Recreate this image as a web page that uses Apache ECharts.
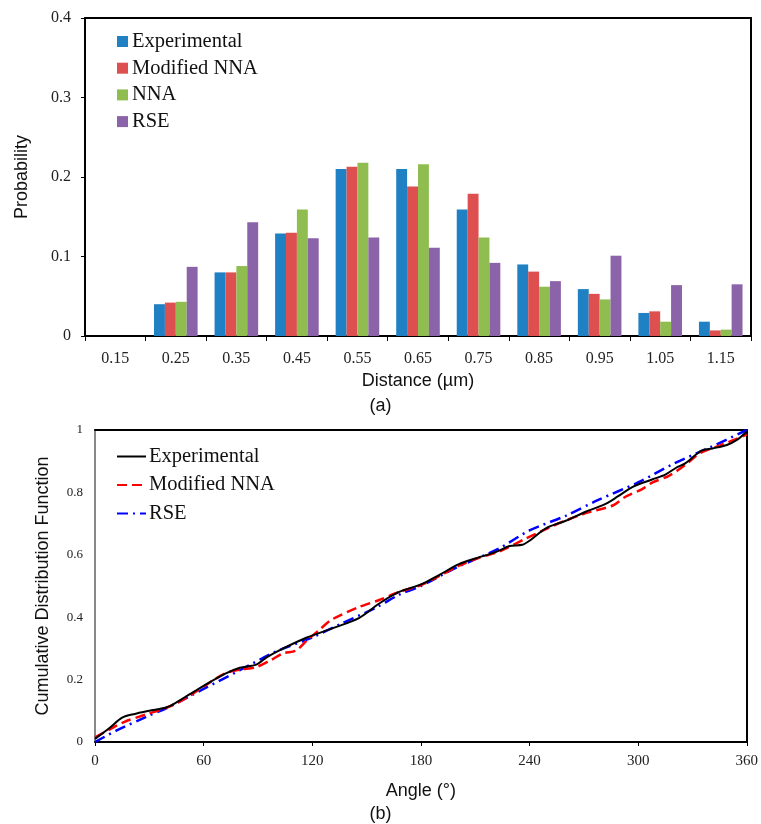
<!DOCTYPE html>
<html>
<head>
<meta charset="utf-8">
<script src="https://cdn.jsdelivr.net/npm/echarts@6/dist/echarts.min.js"></script>
<style>
html,body{margin:0;padding:0;background:#fff;}
#chart{width:761px;height:824px;}
</style>
</head>
<body>
<div id="chart"></div>
<script>
// ---- Panel (a): distance histogram ----
const distCategories = ['0.15','0.25','0.35','0.45','0.55','0.65','0.75','0.85','0.95','1.05','1.15'];
const expProb  = [0, 0.040, 0.080, 0.129, 0.210, 0.210, 0.159, 0.090, 0.059, 0.029, 0.018];
const mnnaProb = [0, 0.042, 0.080, 0.130, 0.213, 0.188, 0.179, 0.081, 0.053, 0.031, 0.007];
const nnaProb  = [0, 0.043, 0.088, 0.159, 0.218, 0.216, 0.124, 0.062, 0.046, 0.018, 0.008];
const rseProb  = [0, 0.087, 0.143, 0.123, 0.124, 0.111, 0.092, 0.069, 0.101, 0.064, 0.065];

// ---- Panel (b): angle CDF ----
const expAngle  = [0, 8, 15, 22, 30, 40, 50, 60, 72, 80, 89, 95, 104, 117, 131, 146, 157, 168, 180, 190, 201, 210, 222, 229, 236, 240, 249, 260, 271, 282, 289, 297, 308, 315, 321, 326, 335, 341, 349, 355, 360];
const expCdf    = [0.01, 0.045, 0.078, 0.09, 0.1, 0.112, 0.145, 0.18, 0.219, 0.238, 0.248, 0.272, 0.30, 0.335, 0.364, 0.398, 0.444, 0.481, 0.505, 0.535, 0.570, 0.588, 0.61, 0.628, 0.632, 0.645, 0.685, 0.709, 0.738, 0.763, 0.788, 0.818, 0.842, 0.857, 0.879, 0.893, 0.934, 0.941, 0.952, 0.97, 0.995];
const mnnaAngle = [0, 8, 16, 28, 40, 50, 60, 72, 80, 89, 97, 104, 111, 117, 124, 131, 146, 157, 168, 180, 190, 201, 212, 223, 238, 250, 260, 272, 286, 293, 302, 308, 317, 326, 334, 345, 360];
const mnnaCdf   = [0.015, 0.04, 0.064, 0.088, 0.111, 0.14, 0.178, 0.22, 0.232, 0.24, 0.262, 0.284, 0.293, 0.325, 0.36, 0.393, 0.433, 0.455, 0.481, 0.503, 0.532, 0.565, 0.59, 0.61, 0.652, 0.685, 0.71, 0.735, 0.758, 0.786, 0.81, 0.832, 0.853, 0.888, 0.925, 0.95, 0.985];
const rseAngle  = [0, 12, 28, 40, 60, 80, 100, 120, 137, 155, 168, 180, 200, 223, 240, 260, 278, 300, 320, 340, 360];
const rseCdf    = [0, 0.037, 0.08, 0.11, 0.17, 0.23, 0.29, 0.335, 0.382, 0.43, 0.472, 0.5, 0.56, 0.62, 0.678, 0.725, 0.776, 0.832, 0.893, 0.945, 1.0];

const serif = '"Liberation Serif", "Times New Roman", serif';
const sans = '"Liberation Sans", Arial, sans-serif';

function pairs(xs, ys){ return xs.map((x,i)=>[x, ys[i]]); }

const chart = echarts.init(document.getElementById('chart'), null, {renderer:'canvas'});

const barColors = ['#1F80C3', '#DE4F4F', '#8FBD50', '#8B63A8'];
function barSeries(name, data, color){
  return {
    name, type:'bar', xAxisIndex:0, yAxisIndex:0, data,
    barGap:'0%', barCategoryGap:'28%',
    itemStyle:{color},
    emphasis:{disabled:true}
  };
}

chart.setOption({
  animation:false,
  backgroundColor:'#fff',
  grid:[
    {left:85, top:18, right:10, height:318},
    {left:95, top:430, right:13, height:312}
  ],
  legend:[
    {
      data:['Experimental','Modified NNA','NNA','RSE'],
      orient:'vertical', left:117, top:31, padding:0,
      icon:'rect', itemWidth:11, itemHeight:11, itemGap:5.7,
      textStyle:{fontFamily:serif, fontSize:20.5, color:'#111', lineHeight:20, padding:[0,0,0,-1]},
      selectedMode:false
    },
    {
      data:['Experimental ','Modified NNA ','RSE '],
      orient:'vertical', left:116, top:446, padding:0,
      itemWidth:29, itemHeight:14, itemGap:7.5,
      itemStyle:{opacity:0},
      textStyle:{fontFamily:serif, fontSize:20.5, color:'#111', lineHeight:20, padding:[0,0,0,-2]},
      selectedMode:false
    }
  ],
  xAxis:[
    {
      gridIndex:0, type:'category', data:distCategories,
      name:'Distance (µm)', nameLocation:'middle', nameGap:36,
      nameTextStyle:{fontFamily:sans, fontSize:18, color:'#111'},
      axisLine:{onZero:false, lineStyle:{color:'#000', width:2}},
      axisTick:{show:true, length:5, lineStyle:{color:'#000', width:1}},
      axisLabel:{fontFamily:serif, fontSize:16, color:'#222', margin:15},
      splitLine:{show:false}
    },
    {
      gridIndex:0, type:'category', data:distCategories, position:'top',
      axisLine:{onZero:false, lineStyle:{color:'#000', width:2}},
      axisTick:{show:false}, axisLabel:{show:false}, splitLine:{show:false}
    },
    {
      gridIndex:1, type:'value', min:0, max:360, interval:60,
      name:'Angle (°)', nameLocation:'middle', nameGap:40,
      nameTextStyle:{fontFamily:sans, fontSize:18, color:'#111'},
      axisLine:{onZero:false, lineStyle:{color:'#000', width:2}},
      axisTick:{show:true, length:4, lineStyle:{color:'#000', width:1}},
      axisLabel:{fontFamily:serif, fontSize:15, color:'#222', margin:12},
      splitLine:{show:false}
    },
    {
      gridIndex:1, type:'value', min:0, max:360, position:'top',
      axisLine:{onZero:false, lineStyle:{color:'#000', width:2}},
      axisTick:{show:false}, axisLabel:{show:false}, splitLine:{show:false}
    }
  ],
  yAxis:[
    {
      gridIndex:0, type:'value', min:0, max:0.4, interval:0.1,
      name:'Probability', nameLocation:'middle', nameGap:54,
      nameTextStyle:{fontFamily:sans, fontSize:18, color:'#111'},
      axisLine:{show:true, onZero:false, lineStyle:{color:'#000', width:2}},
      axisTick:{show:true, length:4, lineStyle:{color:'#000', width:1}},
      axisLabel:{fontFamily:serif, fontSize:16, color:'#222', margin:14},
      splitLine:{show:false}
    },
    {
      gridIndex:0, type:'value', min:0, max:0.4, position:'right',
      axisLine:{show:true, onZero:false, lineStyle:{color:'#000', width:2}},
      axisTick:{show:false}, axisLabel:{show:false}, splitLine:{show:false}
    },
    {
      gridIndex:1, type:'value', min:0, max:1, interval:0.2,
      name:'Cumulative Distribution Function', nameLocation:'middle', nameGap:43,
      nameTextStyle:{fontFamily:sans, fontSize:18, color:'#111'},
      axisLine:{show:true, onZero:false, lineStyle:{color:'#888', width:2}},
      axisTick:{show:false},
      axisLabel:{fontFamily:serif, fontSize:13, color:'#222', margin:12},
      splitLine:{show:false}
    },
    {
      gridIndex:1, type:'value', min:0, max:1, position:'right',
      axisLine:{show:true, onZero:false, lineStyle:{color:'#000', width:2}},
      axisTick:{show:false}, axisLabel:{show:false}, splitLine:{show:false}
    }
  ],
  graphic:[
    {type:'text', left:'center', top:397, style:{text:'(a)', font:'18px "Liberation Sans", Arial, sans-serif', fill:'#111'}, z:10},
    {type:'text', left:'center', top:805, style:{text:'(b)', font:'18px "Liberation Sans", Arial, sans-serif', fill:'#111'}, z:10}
  ],
  series:[
    barSeries('Experimental', expProb, barColors[0]),
    barSeries('Modified NNA', mnnaProb, barColors[1]),
    barSeries('NNA', nnaProb, barColors[2]),
    barSeries('RSE', rseProb, barColors[3]),
    {
      name:'Experimental ', type:'line', xAxisIndex:2, yAxisIndex:2,
      data:pairs(expAngle, expCdf), smooth:0.3, symbol:'none',
      lineStyle:{color:'#000', width:2}, itemStyle:{color:'#000'}, z:3
    },
    {
      name:'Modified NNA ', type:'line', xAxisIndex:2, yAxisIndex:2,
      data:pairs(mnnaAngle, mnnaCdf), smooth:0.3, symbol:'none',
      lineStyle:{color:'#FF0000', width:2.5, type:[10,5]}, itemStyle:{color:'#FF0000'}, z:2
    },
    {
      name:'RSE ', type:'line', xAxisIndex:2, yAxisIndex:2,
      data:pairs(rseAngle, rseCdf), smooth:0.3, symbol:'none',
      lineStyle:{color:'#0000FF', width:2.5, type:[11,5,2,5]}, itemStyle:{color:'#0000FF'}, z:1
    }
  ]
});
</script>
</body>
</html>
